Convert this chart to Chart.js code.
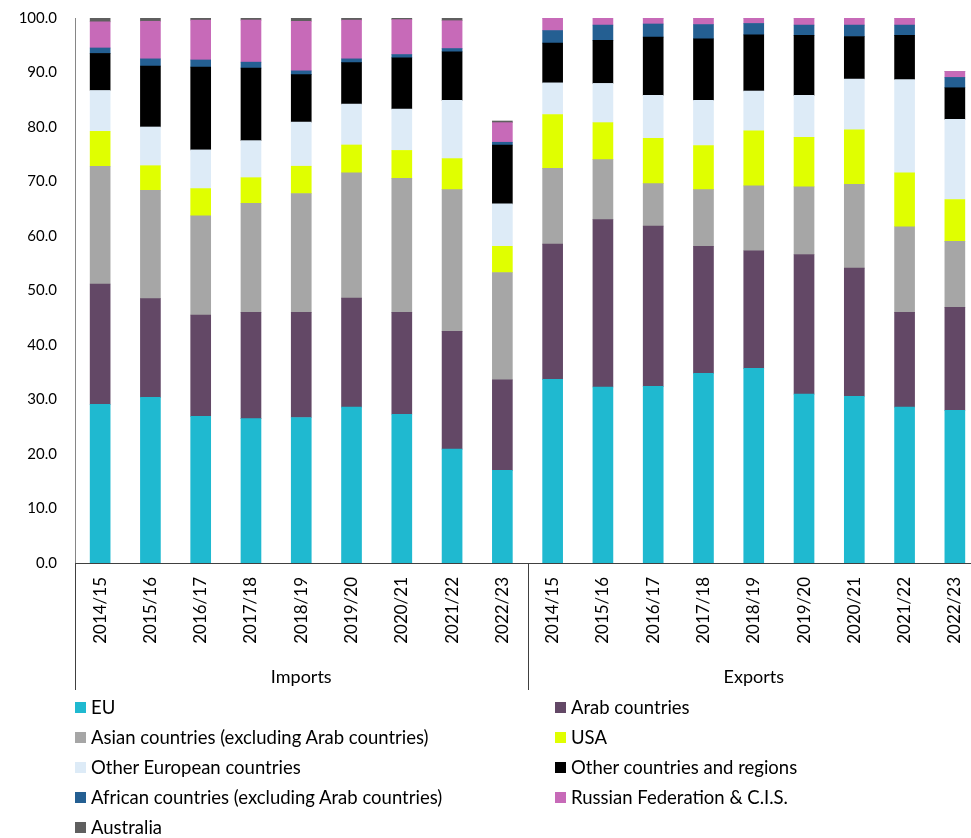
<!DOCTYPE html>
<html>
<head>
<meta charset="utf-8">
<script src="https://cdn.jsdelivr.net/npm/chart.js@4"></script>
<style>
  html, body { margin: 0; padding: 0; background: #fff; }
  #wrap { position: relative; width: 971px; height: 838px; overflow: hidden; font-family: Lato, sans-serif; }
  #chart { position: absolute; left: 0; top: -9px; }
  #legend { position: absolute; left: 75px; top: 692px; display: grid; grid-template-columns: 480px 400px; grid-auto-rows: 30px; }
  .item { display: flex; align-items: center; font-size: 18.5px; color: #000; white-space: nowrap; }
  .swatch { width: 11px; height: 11px; margin-right: 5px; flex: none; }
</style>
</head>
<body>
<div id="wrap">
  <canvas id="chart" width="1000" height="704"></canvas>
  <div id="legend"></div>
</div>
<script>
// Trade partner shares (%), imports then exports, by fiscal year
const periods = ['2014/15', '2015/16', '2016/17', '2017/18', '2018/19', '2019/20', '2020/21', '2021/22', '2022/23'];
const groups = ['Imports', 'Exports'];

const eu           = [29.1, 30.4, 26.9, 26.5, 26.7, 28.6, 27.3, 20.9, 17.0,  33.7, 32.3, 32.4, 34.8, 35.7, 31.0, 30.6, 28.6, 28.0];
const arab         = [22.1, 18.1, 18.6, 19.5, 19.3, 20.0, 18.7, 21.6, 16.6,  24.8, 30.7, 29.4, 23.3, 21.6, 25.6, 23.5, 17.4, 18.9];
const asian        = [21.6, 19.9, 18.2, 20.0, 21.8, 23.0, 24.6, 26.0, 19.7,  13.9, 11.0,  7.8, 10.4, 11.9, 12.4, 15.4, 15.7, 12.1];
const usa          = [ 6.4,  4.5,  5.0,  4.7,  5.0,  5.1,  5.1,  5.7,  4.8,   9.9,  6.8,  8.3,  8.1, 10.1,  9.1, 10.0,  9.9,  7.7];
const otherEurope  = [ 7.5,  7.1,  7.1,  6.8,  8.1,  7.5,  7.6, 10.7,  7.8,   5.8,  7.2,  7.9,  8.3,  7.3,  7.7,  9.3, 17.1, 14.7];
const otherRegions = [ 6.8, 11.2, 15.2, 13.3,  8.7,  7.6,  9.4,  8.9, 10.8,   7.3,  7.9, 10.7, 11.3, 10.3, 11.0,  7.8,  8.1,  5.8];
const african      = [ 1.0,  1.3,  1.3,  1.1,  0.7,  0.7,  0.6,  0.6,  0.5,   2.3,  2.8,  2.4,  2.6,  2.1,  1.9,  2.1,  1.9,  1.9];
const russiaCis    = [ 4.8,  6.9,  7.3,  7.7,  9.1,  7.1,  6.4,  5.1,  3.6,   2.3,  1.4,  1.1,  1.2,  1.0,  1.3,  1.3,  1.3,  1.1];
const australia    = [ 0.7,  0.6,  0.4,  0.5,  0.6,  0.4,  0.4,  0.6,  0.3,   0,    0,    0,    0,    0,    0,    0,    0,    0  ];

const yTicks = [0, 10, 20, 30, 40, 50, 60, 70, 80, 90, 100];

const SERIES = [
  { label: 'EU', data: eu, color: '#1fb9d0' },
  { label: 'Arab countries', data: arab, color: '#634866' },
  { label: 'Asian countries (excluding Arab countries)', data: asian, color: '#a6a6a6' },
  { label: 'USA', data: usa, color: '#e0ff00' },
  { label: 'Other European countries', data: otherEurope, color: '#ddebf7' },
  { label: 'Other countries and regions', data: otherRegions, color: '#000000' },
  { label: 'African countries (excluding Arab countries)', data: african, color: '#245f92' },
  { label: 'Russian Federation & C.I.S.', data: russiaCis, color: '#c76ab8' },
  { label: 'Australia', data: australia, color: '#5f5f5f' },
];

const labels = groups.flatMap(() => periods);

// Second row of the category axis: group names plus separators
const groupAxisPlugin = {
  id: 'groupAxis',
  afterDraw(chart) {
    const { ctx, chartArea, scales: { x } } = chart;
    const step = x.getPixelForValue(1) - x.getPixelForValue(0);
    ctx.save();
    ctx.strokeStyle = '#404040';
    ctx.lineWidth = 1;
    ctx.font = '18px Lato';
    ctx.fillStyle = '#000';
    ctx.textAlign = 'center';
    ctx.textBaseline = 'middle';
    groups.forEach((name, g) => {
      const first = g * periods.length;
      const last = first + periods.length - 1;
      const edge = Math.round(x.getPixelForValue(first) - step / 2) + 0.5;
      ctx.beginPath();
      ctx.moveTo(edge, chartArea.bottom);
      ctx.lineTo(edge, chartArea.bottom + 127);
      ctx.stroke();
      const mid = (x.getPixelForValue(first) + x.getPixelForValue(last)) / 2;
      ctx.fillText(name, mid, chartArea.bottom + 114);
    });
    ctx.restore();
  }
};

const chart = new Chart(document.getElementById('chart'), {
  type: 'bar',
  data: {
    labels,
    datasets: SERIES.map(s => ({
      label: s.label,
      data: s.data,
      backgroundColor: s.color,
      borderWidth: 0,
      barThickness: 20,
    })),
  },
  options: {
    responsive: false,
    animation: false,
    layout: { padding: { top: 8, right: 20, bottom: 0, left: 0 } },
    plugins: {
      legend: { display: false },
      tooltip: { enabled: false },
    },
    scales: {
      x: {
        stacked: true,
        grid: { display: false, drawTicks: false },
        border: { display: true, color: '#404040', width: 1 },
        ticks: {
          autoSkip: false,
          maxRotation: 90,
          minRotation: 90,
          padding: 14,
          color: '#000',
          font: { family: 'Lato', size: 17 },
        },
        afterFit: s => { s.height = 132; },
      },
      y: {
        stacked: true,
        min: 0,
        max: 100,
        afterBuildTicks: s => { s.ticks = yTicks.map(v => ({ value: v })); },
        grid: { display: false, drawTicks: false },
        border: { display: true, color: '#868686', width: 1 },
        ticks: {
          padding: 18,
          color: '#000',
          font: { family: 'Lato', size: 15 },
          callback: v => Number(v).toFixed(1),
        },
        afterFit: s => { s.width = 75; },
      },
    },
  },
  plugins: [groupAxisPlugin],
});

// Two-column legend below the chart
document.getElementById('legend').innerHTML = chart.data.datasets.map(ds => `
  <div class="item"><span class="swatch" style="background:${ds.backgroundColor}"></span>${ds.label}</div>`).join('');
</script>
</body>
</html>
